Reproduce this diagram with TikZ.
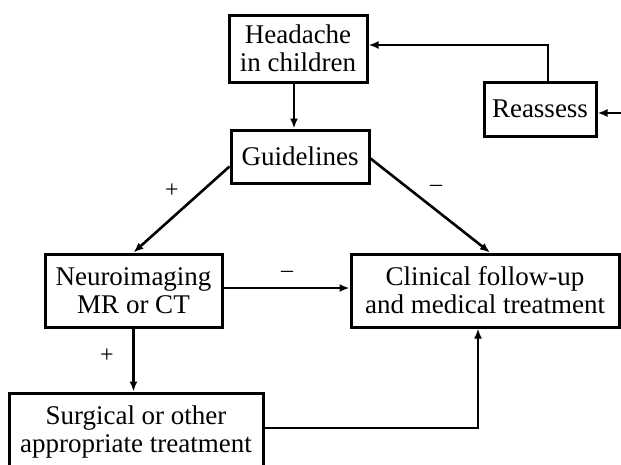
\documentclass[tikz,border=0pt]{standalone}
\usepackage{fontspec}
\setmainfont{Liberation Serif}
\usetikzlibrary{arrows.meta,calc}
\begin{document}
\begin{tikzpicture}[x=1pt,y=-1pt,
  box/.style={draw=black,line width=3pt,fill=white,align=center,inner sep=0pt,
    font=\fontsize{27}{28}\selectfont},
  arr/.style={line width=2.6pt,-{Latex[length=10pt,width=8pt]}},
  lbl/.style={font=\fontsize{24}{24}\selectfont,inner sep=0pt}]
\clip (0,0) rectangle (621,464);
\useasboundingbox (0,0) rectangle (621,464);
\node[box,minimum width=138pt,minimum height=67pt] (H) at (298,48.5) {Headache\\in children};
\node[box,minimum width=112pt,minimum height=54pt] (R) at (540,109) {Reassess};
\node[box,minimum width=138pt,minimum height=53pt] (G) at (300,156.5) {Guidelines};
\node[box,minimum width=177pt,minimum height=73pt] (N) at (133.5,290.5) {Neuroimaging\\MR or CT};
\node[box,minimum width=268pt,minimum height=73pt] (C) at (485,290.5) {Clinical follow-up\\and medical treatment};
\node[box,minimum width=254pt,minimum height=77pt] (S) at (136,431.5) {Surgical or other\\appropriate treatment};
\coordinate (in) at (621,113);
\draw[arr] ([xshift=-4pt]H.south) -- ([xshift=-4pt]H.south |- G.north);
\draw[arr] ([xshift=8pt]R.north) |- ([yshift=3.5pt]H.east);
\draw[arr] (in) -- (in -| R.east);
\draw[arr] ([yshift=-10pt]G.west) -- (N.north);
\draw[arr] ([yshift=-2pt]G.east) -- ([xshift=5pt]C.north);
\draw[arr] ([yshift=2.5pt]N.east) -- ([yshift=2.5pt]C.west);
\draw[arr] (N.south) -- (N.south |- S.north);
\draw[arr] ([yshift=3.5pt]S.east) -| ([xshift=-7pt]C.south);
\node[lbl] (p1) at (172,191) {+};
\node[lbl] (m1) at (436,188) {–};
\node[lbl] (m2) at (287,274) {–};
\node[lbl] (p2) at (107,356) {+};
\end{tikzpicture}
\end{document}
